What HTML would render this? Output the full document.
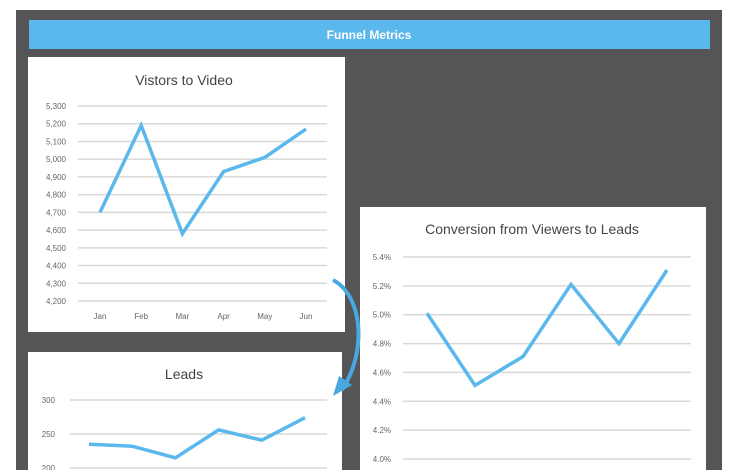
<!DOCTYPE html>
<html><head><meta charset="utf-8"><style>
body{margin:0;width:732px;height:470px;overflow:hidden;background:#fff;font-family:"Liberation Sans",sans-serif}
svg{display:block}
</style></head><body>
<svg width="732" height="470">
<rect x="16" y="10" width="706" height="470" fill="#555557"/>
<rect x="29" y="20" width="681" height="29" fill="#5bb8ec"/>
<text x="369" y="39" text-anchor="middle" fill="#fff" font-size="12" font-weight="bold">Funnel Metrics</text>
<rect x="28" y="57" width="317" height="275" fill="#fff"/>
<rect x="360" y="207" width="346" height="270" fill="#fff"/>
<rect x="28" y="352" width="314" height="130" fill="#fff"/>
<g id="c1"></g><g id="c2"></g><g id="c3"></g>
<path d="M333 280 C362 295 368 350 342 390" fill="none" stroke="#4aa8e0" stroke-width="4"/>
<polygon points="333,396 352,385 339,376" fill="#4aa8e0"/>
</svg>
<script>
const months=["Jan","Feb","Mar","Apr","May","Jun"];
const visitors=[4700,5190,4580,4930,5010,5170];
const visitorTicks=[4200,4300,4400,4500,4600,4700,4800,4900,5000,5100,5200,5300];
const conversion=[5.01,4.51,4.71,5.21,4.80,5.31];
const conversionTicks=[4.0,4.2,4.4,4.6,4.8,5.0,5.2,5.4];
const leads=[235,232,215,256,241,274];
const leadTicks=[200,250,300];
const NS="http://www.w3.org/2000/svg";
function mk(p,t,a){const e=document.createElementNS(NS,t);for(const k in a)e.setAttribute(k,a[k]);p.appendChild(e);return e;}
function chart(g,cfg){
  const y=v=>cfg.y0+(cfg.ymax-v)/(cfg.ymax-cfg.ymin)*(cfg.y1-cfg.y0);
  const x=i=>cfg.px0+i*(cfg.px1-cfg.px0)/(cfg.vals.length-1);
  const t=mk(g,"text",{x:cfg.tx,y:cfg.ty,"text-anchor":"middle","font-size":"14",fill:"#444"});
  t.textContent=cfg.title;
  
  
  cfg.ticks.forEach(v=>{
    const l=mk(g,"line",{x1:cfg.gx0,x2:cfg.gx1,y1:y(v),y2:y(v),stroke:"#d9d9d9","stroke-width":"1.5"});
    
    
    const tx=mk(g,"text",{x:cfg.lx,y:y(v)+3,"text-anchor":"end","font-size":"8",fill:"#666"});
    tx.textContent=cfg.fmt(v);
    
    
  });
  if(cfg.xl){months.forEach((m,i)=>{
    const tx=mk(g,"text",{x:x(i),y:cfg.xl,"text-anchor":"middle","font-size":"8",fill:"#666"});
    tx.textContent=m;
    
    
  });}
  const pl=mk(g,"polyline",{points:cfg.vals.map((v,i)=>x(i)+","+y(v)).join(" "),fill:"none",stroke:"#5bb8ec","stroke-width":"3.5","stroke-linejoin":"miter"});
  
  
}
chart(document.getElementById("c1"),{name:"visitors",title:"Vistors to Video",tx:184,ty:85,vals:visitors,ticks:visitorTicks,ymin:4200,ymax:5300,y0:106,y1:301,px0:100,px1:306,gx0:78,gx1:327,lx:66,xl:319,fmt:v=>v.toLocaleString("en-US")});
chart(document.getElementById("c2"),{name:"conversion",title:"Conversion from Viewers to Leads",tx:532,ty:234,vals:conversion,ticks:conversionTicks,ymin:4.0,ymax:5.4,y0:257,y1:459,px0:427,px1:667,gx0:403,gx1:691,lx:391,xl:0,fmt:v=>v.toFixed(1)+"%"});
chart(document.getElementById("c3"),{name:"leads",title:"Leads",tx:184,ty:379,vals:leads,ticks:leadTicks,ymin:200,ymax:300,y0:400,y1:468,px0:89,px1:305,gx0:70,gx1:327,lx:55,xl:0,fmt:v=>String(v)});
</script>
</body></html>
